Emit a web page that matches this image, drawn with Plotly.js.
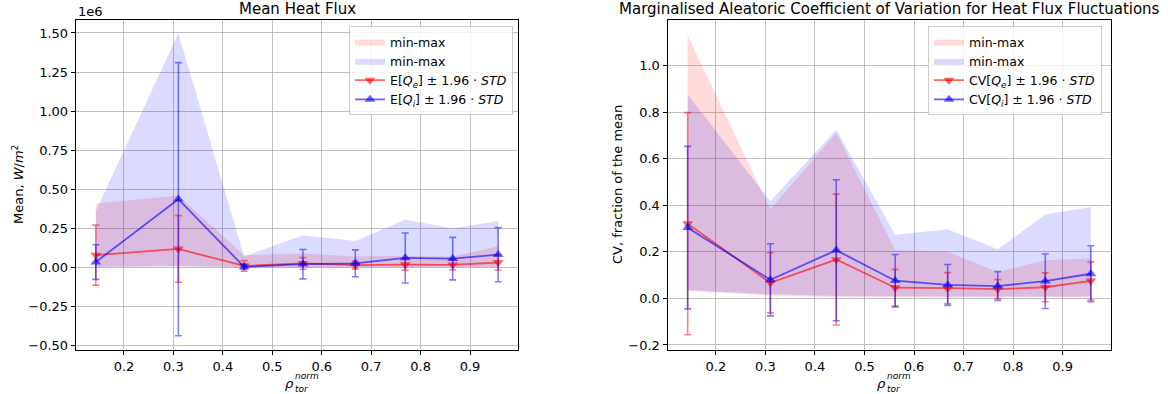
<!DOCTYPE html>
<html>
<head>
<meta charset="utf-8">
<script src="https://cdn.plot.ly/plotly-3.0.1.min.js"></script>
<style>
  html, body { margin: 0; padding: 0; background: #ffffff; }
  #chart { width: 1168px; height: 394px; }
</style>
</head>
<body>
<div id="chart"></div>
<script>
// Normalised toroidal radius of each flux-tube
const rhoTor = [0.143, 0.310, 0.443, 0.562, 0.668, 0.769, 0.865, 0.957];

// Mean heat flux, W/m^2
const qeMean = [78000, 118000, 9000, 25000, 14000, 18000, 16000, 31000];
const qeErr  = [192000, 213000, 34000, 37000, 24000, 37000, 32000, 50000];
const qeMin  = [4000, 8000, 1000, 2000, 1000, 1000, 1000, 2000];
const qeMax  = [408000, 460000, 77000, 88000, 70000, 75000, 70000, 135000];

const qiMean = [34000, 436000, 3000, 20000, 26000, 60000, 56000, 81000];
const qiErr  = [111000, 874000, 16000, 94000, 86000, 160000, 136000, 173000];
const qiMin  = [2000, 5000, 500, 1000, 1000, 1000, 1000, 1000];
const qiMax  = [360000, 1498000, 70000, 205000, 169000, 306000, 248000, 297000];

// Coefficient of variation, fraction of the mean
const cvQeMean = [0.321, 0.067, 0.167, 0.046, 0.044, 0.040, 0.048, 0.075];
const cvQeErr  = [0.477, 0.129, 0.281, 0.079, 0.067, 0.041, 0.062, 0.082];
const cvQeMin  = [0.033, 0.012, 0.006, 0.005, 0.005, 0.005, 0.005, 0.005];
const cvQeMax  = [1.131, 0.383, 0.712, 0.207, 0.200, 0.114, 0.164, 0.171];

const cvQiMean = [0.304, 0.080, 0.207, 0.076, 0.058, 0.053, 0.074, 0.106];
const cvQiErr  = [0.349, 0.155, 0.303, 0.113, 0.088, 0.062, 0.117, 0.120];
const cvQiMin  = [0.036, 0.018, 0.010, 0.008, 0.008, 0.008, 0.008, 0.008];
const cvQiMax  = [0.876, 0.418, 0.725, 0.274, 0.297, 0.211, 0.361, 0.393];

// Tick labels
const xTicks = [0.2, 0.3, 0.4, 0.5, 0.6, 0.7, 0.8, 0.9];
const xTickText = ['0.2', '0.3', '0.4', '0.5', '0.6', '0.7', '0.8', '0.9'];
const fluxTicks = [-500000, -250000, 0, 250000, 500000, 750000, 1000000, 1250000, 1500000];
const fluxTickText = ['\u22120.50', '\u22120.25', '0.00', '0.25', '0.50', '0.75', '1.00', '1.25', '1.50'];
const cvTicks = [-0.2, 0, 0.2, 0.4, 0.6, 0.8, 1.0];
const cvTickText = ['\u22120.2', '0.0', '0.2', '0.4', '0.6', '0.8', '1.0'];

const W = 1168, H = 394;
const px = v => v / W;
const py = v => 1 - v / H;

const FONT = 'DejaVu Sans, sans-serif';
const RED_FILL = 'rgba(255,0,0,0.14)';
const BLUE_FILL = 'rgba(0,0,255,0.14)';
const RED_LINE = 'rgba(255,0,0,0.6)';
const BLUE_LINE = 'rgba(0,0,255,0.6)';
const RED_BAR = 'rgba(255,0,0,0.5)';
const BLUE_BAR = 'rgba(0,0,255,0.5)';

function band(lo, hi, color, xa, ya, leg) {
  return [
    { x: rhoTor, y: lo, xaxis: xa, yaxis: ya, mode: 'lines', line: { width: 0, color: color },
      showlegend: false, hoverinfo: 'skip', legend: leg },
    { x: rhoTor, y: hi, xaxis: xa, yaxis: ya, mode: 'lines', line: { width: 0, color: color },
      fill: 'tonexty', fillcolor: color, name: 'min-max', legend: leg }
  ];
}

function series(mean, err, lineColor, barColor, symbol, name, xa, ya, leg) {
  return {
    x: rhoTor, y: mean, xaxis: xa, yaxis: ya, mode: 'lines+markers', name: name, legend: leg,
    line: { color: lineColor, width: 1.8 },
    marker: { symbol: symbol, size: 9.5, color: lineColor, line: { width: 0 } },
    error_y: { type: 'data', array: err, visible: true, color: barColor, thickness: 1.6, width: 3.5 }
  };
}

const traces = [
  ...band(qeMin, qeMax, RED_FILL, 'x', 'y', 'legend'),
  ...band(qiMin, qiMax, BLUE_FILL, 'x', 'y', 'legend'),
  series(qeMean, qeErr, RED_LINE, RED_BAR, 'triangle-down',
    'E[<i>Q<sub>e</sub></i>] \u00b1 1.96 \u00b7 <i>STD</i>', 'x', 'y', 'legend'),
  series(qiMean, qiErr, BLUE_LINE, BLUE_BAR, 'triangle-up',
    'E[<i>Q<sub>i</sub></i>] \u00b1 1.96 \u00b7 <i>STD</i>', 'x', 'y', 'legend'),

  ...band(cvQeMin, cvQeMax, RED_FILL, 'x2', 'y2', 'legend2'),
  ...band(cvQiMin, cvQiMax, BLUE_FILL, 'x2', 'y2', 'legend2'),
  series(cvQeMean, cvQeErr, RED_LINE, RED_BAR, 'triangle-down',
    'CV[<i>Q<sub>e</sub></i>] \u00b1 1.96 \u00b7 <i>STD</i>', 'x2', 'y2', 'legend2'),
  series(cvQiMean, cvQiErr, BLUE_LINE, BLUE_BAR, 'triangle-up',
    'CV[<i>Q<sub>i</sub></i>] \u00b1 1.96 \u00b7 <i>STD</i>', 'x2', 'y2', 'legend2')
];

const axisBase = {
  showline: true, mirror: true, linecolor: '#000000', linewidth: 1,
  ticks: 'outside', ticklen: 4, tickwidth: 1, tickcolor: '#000000',
  showgrid: true, gridcolor: '#b0b0b0', gridwidth: 0.8, zeroline: false,
  tickfont: { family: FONT, size: 13, color: '#000000' },
  tickmode: 'array', fixedrange: true
};

const legendBase = {
  font: { family: FONT, size: 12.5, color: '#000000' },
  bgcolor: 'rgba(255,255,255,0.8)', bordercolor: '#cccccc', borderwidth: 1,
  xanchor: 'right', yanchor: 'top', traceorder: 'normal', tracegroupgap: 0, itemwidth: 30
};

function ann(text, x, y, opts) {
  return Object.assign({
    text: text, x: x, y: y, xref: 'paper', yref: 'paper', showarrow: false,
    font: { family: FONT, size: 13, color: '#000000' }, xanchor: 'center', yanchor: 'middle'
  }, opts || {});
}

// rho_tor^norm written as a symbol with stacked super- and subscript
function rhoLabel(cx) {
  return [
    ann('<i>\u03c1</i>', px(cx - 8), py(383), { borderpad: 0, font: { family: FONT, size: 13, color: '#000' } }),
    ann('<i>norm</i>', px(cx - 3), py(376), { xanchor: 'left', borderpad: 0, font: { family: FONT, size: 9, color: '#000' } }),
    ann('<i>tor</i>', px(cx - 3), py(389), { xanchor: 'left', borderpad: 0, font: { family: FONT, size: 9, color: '#000' } })
  ];
}

const layout = {
  width: W, height: H,
  margin: { l: 0, r: 0, t: 0, b: 0 },
  paper_bgcolor: '#ffffff', plot_bgcolor: '#ffffff',
  showlegend: true,
  xaxis: Object.assign({}, axisBase, { domain: [px(75.7), px(518.3)], range: [0.1023, 0.9977],
    tickvals: xTicks, ticktext: xTickText, anchor: 'y' }),
  yaxis: Object.assign({}, axisBase, { domain: [py(350), py(20)], range: [-529000, 1583000],
    tickvals: fluxTicks, ticktext: fluxTickText, anchor: 'x' }),
  xaxis2: Object.assign({}, axisBase, { domain: [px(667.5), px(1111)], range: [0.1023, 0.9977],
    tickvals: xTicks, ticktext: xTickText, anchor: 'y2' }),
  yaxis2: Object.assign({}, axisBase, { domain: [py(350), py(20)], range: [-0.2215, 1.196],
    tickvals: cvTicks, ticktext: cvTickText, anchor: 'x2' }),
  legend: Object.assign({}, legendBase, { x: px(513), y: py(26) }),
  legend2: Object.assign({}, legendBase, { x: px(1102), y: py(26) }),
  annotations: [
    ann('Mean Heat Flux', px(297), py(9), { font: { family: FONT, size: 15, color: '#000' } }),
    ann('Marginalised Aleatoric Coefficient of Variation for Heat Flux Fluctuations', px(889), py(9),
      { font: { family: FONT, size: 15, color: '#000' } }),
    ann('1e6', px(76), py(12), { xanchor: 'left' }),
    ann('Mean, <i>W</i>/<i>m</i><sup>2</sup>', px(18), py(185), { textangle: -90 }),
    ann('CV, fraction of the mean', px(617), py(185), { textangle: -90 }),
    ...rhoLabel(297),
    ...rhoLabel(889)
  ]
};

Plotly.newPlot('chart', traces, layout, { staticPlot: true, displayModeBar: false });
</script>
</body>
</html>
